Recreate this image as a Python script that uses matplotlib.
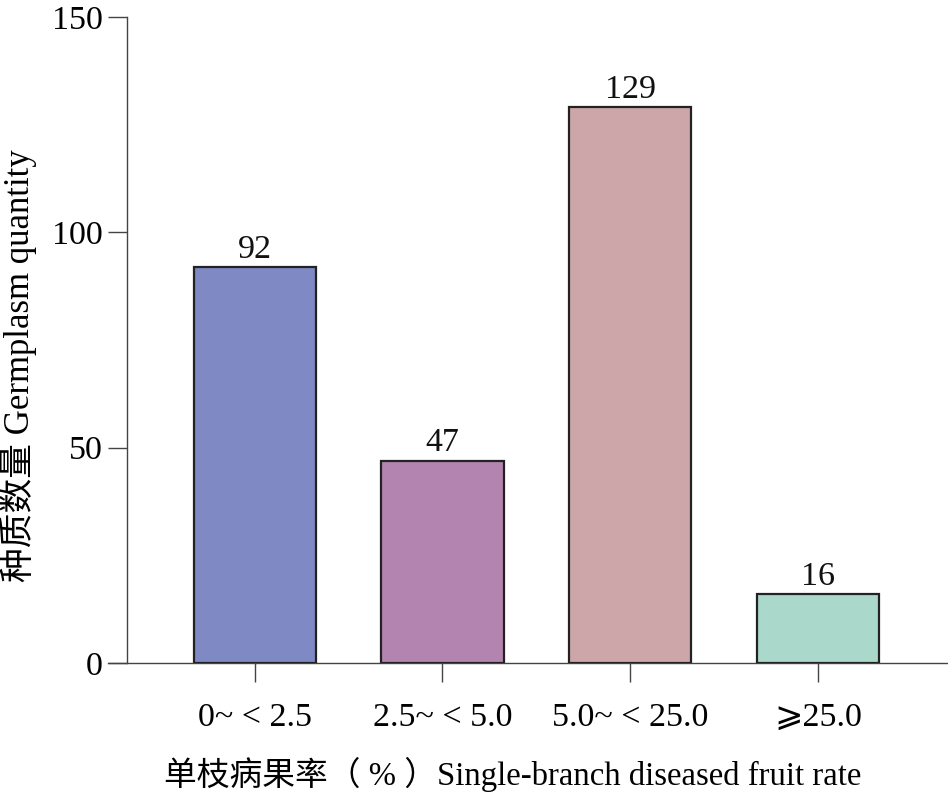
import matplotlib
matplotlib.use("Agg")
import matplotlib.pyplot as plt

categories = ["0~ < 2.5", "2.5~ < 5.0", "5.0~ < 25.0", "⩾25.0"]
values = [92, 47, 129, 16]
colors = ["#7f89c4", "#b384b0", "#cda6aa", "#aad9cc"]
y_ticks = [0, 50, 100, 150]
xlabel = "单枝病果率（ % ）Single-branch diseased fruit rate"
ylabel = "种质数量 Germplasm quantity"

fam = ["Liberation Serif", "DejaVu Serif", "DejaVu Sans", "Noto Sans CJK SC"]
plt.rcParams["font.family"] = fam

fig = plt.figure(figsize=(9.48, 7.93), dpi=100)
ax = fig.add_axes([108/948, 130/793, 1 - 108/948, (663-17)/793])

x = list(range(len(categories)))
ax.bar(x, values, width=0.65, color=colors, edgecolor="#222222", linewidth=1.6, zorder=3)
for xi, v in zip(x, values):
    ax.text(xi, v + 0.5, str(v), ha="center", va="bottom", fontsize=24.5, color="#111111")

ax.set_xlim(-0.78, 3.69)
ax.set_ylim(0, 150)
ax.spines["top"].set_visible(False)
ax.spines["right"].set_visible(False)
ax.spines["left"].set_position(("data", -0.68))
for s in ["left", "bottom"]:
    ax.spines[s].set_color("#444444")
    ax.spines[s].set_linewidth(1.0)

ax.set_yticks(y_ticks)
ax.set_xticks(x)
ax.set_xticklabels(categories)
ax.tick_params(axis="y", direction="out", length=13.5, width=1.0, color="#444444", labelsize=24.5, pad=4)
ax.tick_params(axis="x", direction="out", length=13.5, width=1.0, color="#444444", labelsize=24.5, pad=15)

ax.set_xlabel(xlabel, fontsize=23.6)
ax.xaxis.set_label_coords(0.482, -0.145)
fig.text(18/948, 1 - 366/793, ylabel, rotation=90, ha="center", va="center", fontsize=25)

fig.savefig("out.png", dpi=100)
